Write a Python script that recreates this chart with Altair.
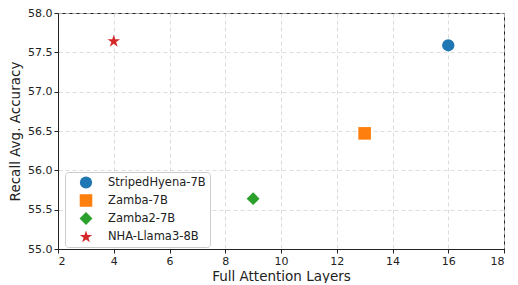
import altair as alt
import pandas as pd

models = ["StripedHyena-7B", "Zamba-7B", "Zamba2-7B", "NHA-Llama3-8B"]
layers = [16, 13, 9, 4]
accuracy = [57.59, 56.47, 55.64, 57.64]
colors = ["#1f77b4", "#ff7f0e", "#2ca02c", "#d62728"]
x_ticks = [2, 4, 6, 8, 10, 12, 14, 16, 18]
y_ticks = [55.0, 55.5, 56.0, 56.5, 57.0, 57.5, 58.0]

STAR = ("M0,-1L0.2245,-0.309L0.9511,-0.309L0.3633,0.118L0.5878,0.809"
        "L0,0.382L-0.5878,0.809L-0.3633,0.118L-0.9511,-0.309L-0.2245,-0.309Z")
shapes = ["circle", "square", "diamond", STAR]
marker_sizes = [150, 175, 300, 200]

df = pd.DataFrame({"model": models, "layers": layers, "acc": accuracy})

font = "DejaVu Sans"

chart = alt.Chart(df).mark_point(filled=True, opacity=1).encode(
    x=alt.X("layers:Q", title="Full Attention Layers",
            scale=alt.Scale(domain=[2, 18], nice=False, zero=False),
            axis=alt.Axis(values=x_ticks, format="d")),
    y=alt.Y("acc:Q", title="Recall Avg. Accuracy",
            scale=alt.Scale(domain=[55, 58], nice=False, zero=False),
            axis=alt.Axis(values=y_ticks, format=".1f", minExtent=30, maxExtent=30)),
    color=alt.Color("model:N", title=None,
                    scale=alt.Scale(domain=models, range=colors),
                    legend=alt.Legend(orient="none", legendX=7, legendY=159)),
    shape=alt.Shape("model:N", title=None,
                    scale=alt.Scale(domain=models, range=shapes),
                    legend=alt.Legend(orient="none", legendX=7, legendY=159)),
    size=alt.Size("model:N", scale=alt.Scale(domain=models, range=marker_sizes),
                  legend=None),
).properties(
    width=446, height=236,
    padding={"left": 0, "top": -1, "right": 0, "bottom": 0},
).configure_view(
    stroke="#222", strokeWidth=1
).configure_axis(
    labelFont=font, titleFont=font, labelFontSize=11, titleFontSize=13.5,
    titleFontWeight="normal", labelColor="#222", titleColor="#222",
    domainColor="#222", tickColor="#222", tickSize=4, labelPadding=2,
    grid=True, gridColor="#d3d3d3", gridDash=[4, 3], gridWidth=0.8,
).configure_axisX(titlePadding=3).configure_axisY(titlePadding=6).configure_legend(
    labelFont=font, labelFontSize=11.5, labelColor="#222",
    symbolSize=120, symbolStrokeWidth=0, rowPadding=5,
    padding=4, cornerRadius=3, strokeColor="#ccc", fillColor="white",
    labelOffset=15, symbolOffset=10,
)

chart.save("out.html", embed_options={"renderer": "svg", "actions": False})
